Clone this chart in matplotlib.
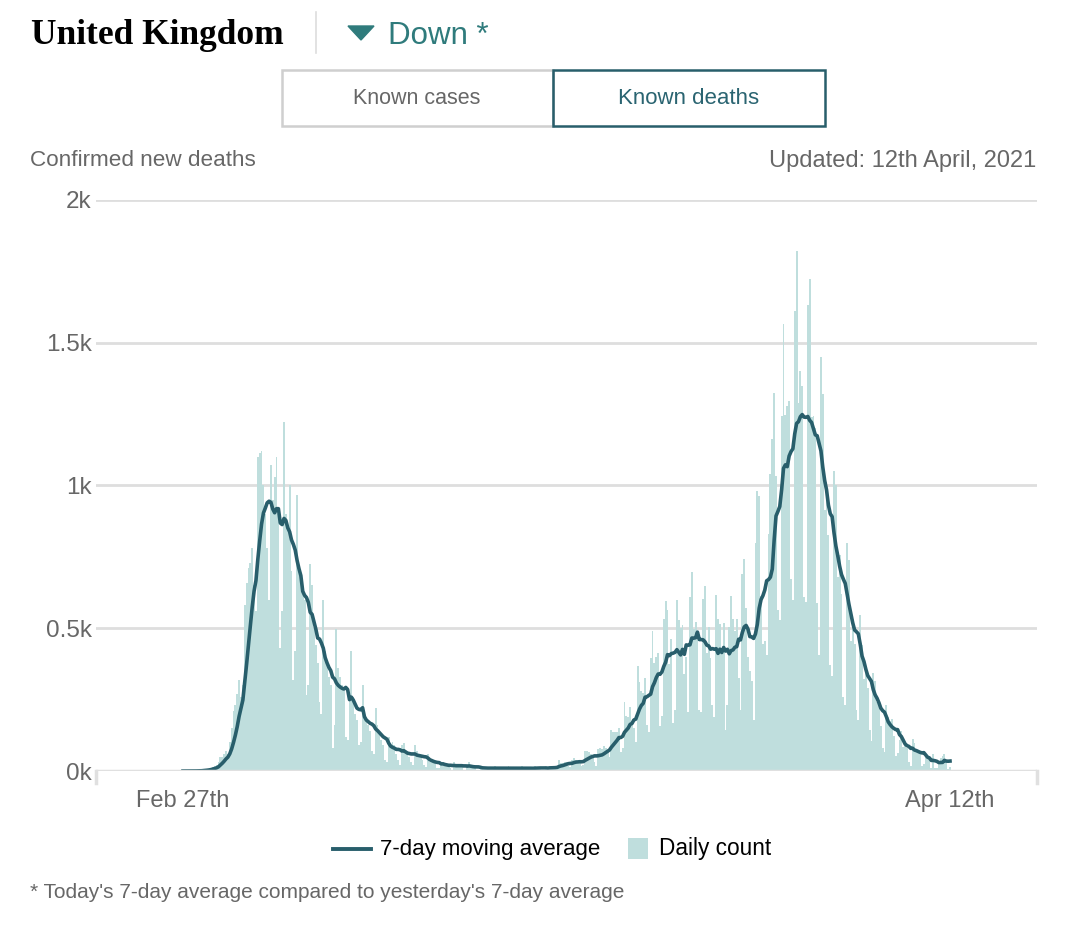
import matplotlib
matplotlib.use("Agg")
import matplotlib.pyplot as plt
from matplotlib.patches import Polygon, Rectangle
from matplotlib.lines import Line2D
import pandas as pd

# daily reported deaths, one value per day from 27 Feb 2020 (rows are Thu..Wed)
start_date = "2020-02-27"
daily_deaths = [
    0, 0, 0, 0, 0, 0, 0,
    2, 1, 1, 2, 4, 4, 6,
    8, 10, 14, 16, 20, 30, 50,
    50, 60, 70, 60, 100, 150, 210,
    230, 270, 320, 260, 300, 580, 660,
    710, 730, 780, 650, 560, 1100, 1115,
    1120, 1000, 900, 780, 600, 1072, 950,
    1030, 1100, 900, 430, 560, 1223, 900,
    850, 1003, 700, 320, 420, 967, 700,
    680, 620, 600, 266, 300, 725, 650,
    500, 440, 380, 240, 200, 600, 420,
    370, 330, 300, 80, 160, 499, 360,
    330, 300, 280, 120, 110, 250, 421,
    260, 200, 180, 90, 100, 300, 200,
    180, 160, 140, 70, 60, 220, 160,
    130, 110, 90, 40, 30, 120, 90,
    100, 90, 60, 40, 20, 90, 98,
    70, 60, 50, 30, 20, 90, 70,
    60, 50, 40, 20, 15, 60, 30,
    40, 30, 25, 10, 10, 30, 30,
    25, 20, 15, 10, 5, 30, 25,
    25, 20, 15, 5, 5, 25, 30,
    15, 12, 10, 5, 3, 16, 16,
    12, 10, 8, 5, 3, 15, 17,
    13, 11, 8, 4, 4, 14, 16,
    12, 10, 9, 5, 3, 15, 16,
    12, 10, 8, 5, 2, 14, 18,
    13, 12, 10, 4, 3, 15, 14,
    18, 14, 12, 6, 9, 37, 28,
    28, 30, 30, 18, 15, 40, 45,
    40, 35, 34, 17, 20, 71, 71,
    66, 60, 50, 33, 19, 76, 80,
    77, 87, 81, 65, 50, 143, 137,
    138, 136, 150, 67, 80, 241, 191,
    189, 224, 174, 151, 102, 367, 310,
    280, 274, 326, 162, 136, 397, 492,
    378, 400, 413, 156, 194, 532, 595,
    563, 376, 462, 168, 213, 598, 529,
    501, 511, 341, 398, 206, 608, 696,
    498, 521, 479, 215, 205, 603, 648,
    414, 504, 397, 231, 189, 616, 533,
    516, 424, 519, 144, 232, 506, 612,
    532, 489, 534, 326, 215, 691, 744,
    570, 400, 350, 316, 180, 800, 981,
    964, 613, 445, 454, 407, 830, 1041,
    1162, 1325, 1035, 563, 529, 1243, 1564,
    1248, 1280, 1295, 671, 599, 1610, 1820,
    1290, 1401, 1348, 610, 592, 1631, 1725,
    1239, 1245, 1200, 587, 406, 1449, 1322,
    915, 1014, 828, 373, 333, 1052, 1001,
    678, 758, 621, 258, 230, 799, 738,
    454, 533, 445, 215, 178, 548, 442,
    323, 345, 290, 144, 104, 343, 315,
    242, 236, 158, 82, 65, 231, 190,
    175, 181, 121, 52, 64, 110, 141,
    85, 90, 80, 33, 17, 112, 98,
    70, 70, 58, 19, 23, 56, 43,
    51, 10, 58, 10, 9, 26, 45,
    53, 60, 40, 7, 13,
]
y_ticks = [0, 500, 1000, 1500, 2000]
y_labels = ["0k", "0.5k", "1k", "1.5k", "2k"]
x_labels = ["Feb 27th", "Apr 12th"]

plt.rcParams["font.family"] = ["Liberation Sans", "DejaVu Sans"]

dates = pd.date_range(start_date, periods=len(daily_deaths), freq="D")
avg7 = pd.Series(daily_deaths).rolling(7, min_periods=1).mean()

BAR = "#bfdedd"
LINE = "#285e6b"
GREY = "#676767"
TEAL = "#2f7b7c"

W, H = 1080, 925
fig = plt.figure(figsize=(10.8, 9.25), dpi=100)


def fx(x):
    return x / W


def fy(y):
    return 1 - y / H


ax = fig.add_axes([fx(96), fy(771), fx(1037) - fx(96), fy(200) - fy(771)])
ax.bar(dates, daily_deaths, width=1.0, color=BAR, linewidth=0, zorder=2)
ax.plot(dates, avg7, color=LINE, lw=2.6, zorder=3)
ax.axhline(0, color="#e0e0e0", lw=2.5, zorder=4)
ax.set_ylim(0, 2000)
ax.set_xlim(dates[0] - pd.Timedelta(days=46.5), dates[0] + pd.Timedelta(days=456.5))
ax.set_yticks(y_ticks)
ax.set_yticklabels(y_labels)
ax.set_xticks([dates[0], dates[-1]])
ax.set_xticklabels(x_labels)
ax.tick_params(axis="y", length=0, pad=3, labelsize=17.5, labelcolor=GREY)
ax.tick_params(axis="x", length=0, pad=14, labelsize=17, labelcolor=GREY)
ax.yaxis.grid(True, color="#dedede", lw=2)
ax.set_axisbelow(True)
for s in ax.spines.values():
    s.set_visible(False)

# little end ticks on the baseline
for xp in (96, 1037):
    fig.add_artist(Line2D([fx(xp), fx(xp)], [fy(771), fy(783)], transform=fig.transFigure,
                          color="#e0e0e0", lw=2.5))

# header
fig.text(fx(31), fy(44), "United Kingdom", family="Liberation Serif", weight="bold",
         fontsize=25.5, color="black", va="baseline")
fig.add_artist(Line2D([fx(316), fx(316)], [fy(12), fy(53)], transform=fig.transFigure,
                      color="#dddddd", lw=1.2))
fig.add_artist(Polygon([[fx(348), fy(26)], [fx(374), fy(26)], [fx(361), fy(40)]],
                       closed=True, transform=fig.transFigure, color=TEAL))
fig.text(fx(388), fy(44), "Down *", fontsize=22.5, color=TEAL, va="baseline")

# toggle buttons
fig.add_artist(Rectangle((fx(282), fy(126)), fx(553) - fx(282), fy(70) - fy(126),
                         transform=fig.transFigure, fill=False, edgecolor="#cfcfcf", lw=1.8))
fig.add_artist(Rectangle((fx(553), fy(126)), fx(825) - fx(553), fy(70) - fy(126),
                         transform=fig.transFigure, fill=False, edgecolor=LINE, lw=1.8))
fig.text(fx(417), fy(98), "Known cases", fontsize=15.5, color=GREY, ha="center", va="center")
fig.text(fx(689), fy(98), "Known deaths", fontsize=16, color="#2a6471", ha="center", va="center")

fig.text(fx(30), fy(161), "Confirmed new deaths", fontsize=16.2, color=GREY, va="center")
fig.text(fx(1036), fy(161), "Updated: 12th April, 2021", fontsize=17, color=GREY,
         ha="right", va="center")

# legend
fig.add_artist(Line2D([fx(333), fx(371)], [fy(849), fy(849)], transform=fig.transFigure,
                      color=LINE, lw=2.8))
fig.text(fx(380), fy(849), "7-day moving average", fontsize=16, color="black", va="center")
fig.add_artist(Rectangle((fx(628), fy(859)), fx(648) - fx(628), fy(838) - fy(859),
                         transform=fig.transFigure, color=BAR, lw=0))
fig.text(fx(659), fy(849), "Daily count", fontsize=16.3, color="black", va="center")

fig.text(fx(30), fy(892), "* Today's 7-day average compared to yesterday's 7-day average",
         fontsize=15, color=GREY, va="center")

fig.savefig("out.png", dpi=100)
